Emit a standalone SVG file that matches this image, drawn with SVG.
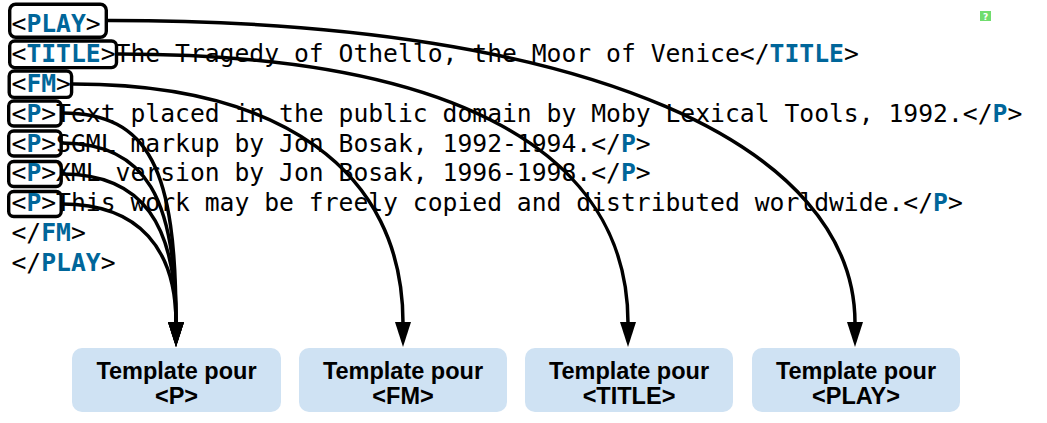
<svg xmlns="http://www.w3.org/2000/svg" width="1047" height="423" viewBox="0 0 1047 423">
<style>
.code{font-family:"DejaVu Sans Mono","Liberation Mono",monospace;font-size:24.7px;fill:#000}
.tag{font-weight:bold;fill:#00669a}
.tbox{fill:#fff;stroke:#000;stroke-width:3.4}
.tpl rect{fill:#cfe2f3}
.tpl text{font-family:"Liberation Sans",Arial,sans-serif;font-weight:bold;font-size:23.5px;fill:#000;text-anchor:middle}
.conn path{fill:none;stroke:#000;stroke-width:3.5;marker-end:url(#ah)}
</style>
<defs>
<marker id="ah" markerUnits="userSpaceOnUse" markerWidth="26" markerHeight="18" refX="1" refY="9" orient="auto" viewBox="0 0 26 18"><path d="M0,1 L25,9 L0,17 z" fill="#000"/></marker>
</defs>
<rect width="1047" height="423" fill="#fff"/>
<g id="tagboxes">
<rect id="box-play" class="tbox" x="9.7" y="4.2" width="96.6" height="33" rx="6"/>
<rect id="box-title" class="tbox" x="9.7" y="41" width="106.8" height="26.6" rx="5"/>
<rect id="box-fm" class="tbox" x="9.2" y="71" width="62.4" height="26.4" rx="5"/>
<rect id="box-p1" class="tbox" x="8.7" y="101" width="52.5" height="25" rx="5"/>
<rect id="box-p2" class="tbox" x="8.7" y="131" width="52.5" height="25" rx="5"/>
<rect id="box-p3" class="tbox" x="8.7" y="161.5" width="52.5" height="25" rx="5"/>
<rect id="box-p4" class="tbox" x="8.7" y="191.5" width="52.5" height="25" rx="5"/>
</g>
<g id="code" class="code">
<text x="11.5" y="32">&lt;<tspan class="tag">PLAY</tspan>&gt;</text>
<text x="11.5" y="62">&lt;<tspan class="tag">TITLE</tspan>&gt;The Tragedy of Othello, the Moor of Venice&lt;/<tspan class="tag">TITLE</tspan>&gt;</text>
<text x="11.5" y="92">&lt;<tspan class="tag">FM</tspan>&gt;</text>
<text x="11.5" y="121.8">&lt;<tspan class="tag">P</tspan>&gt;Text placed in the public domain by Moby Lexical Tools, 1992.&lt;/<tspan class="tag">P</tspan>&gt;</text>
<text x="11.5" y="151.5">&lt;<tspan class="tag">P</tspan>&gt;SGML markup by Jon Bosak, 1992-1994.&lt;/<tspan class="tag">P</tspan>&gt;</text>
<text x="11.5" y="181.3">&lt;<tspan class="tag">P</tspan>&gt;XML version by Jon Bosak, 1996-1998.&lt;/<tspan class="tag">P</tspan>&gt;</text>
<text x="11.5" y="211">&lt;<tspan class="tag">P</tspan>&gt;This work may be freely copied and distributed worldwide.&lt;/<tspan class="tag">P</tspan>&gt;</text>
<text x="11.5" y="240.8">&lt;/<tspan class="tag">FM</tspan>&gt;</text>
<text x="11.5" y="270.5">&lt;/<tspan class="tag">PLAY</tspan>&gt;</text>
</g>
<g id="connectors" class="conn">
<path d="M108,20.5 C600,20 855,150 855,323"/>
<path d="M118,54 C460,54 628,155 628,323"/>
<path d="M73,84 C280,84 403,170 403,323"/>
<path d="M62,113 C150,113 176,170 176,323"/>
<path d="M62,143 C147,143 176,200 176,323"/>
<path d="M62,174 C143,174 176,225 176,323"/>
<path d="M62,204 C140,204 176,250 176,323"/>
</g>
<g id="tpl-p" class="tpl"><rect x="72" y="348" width="209" height="64" rx="10"/><text x="176.5" y="379">Template pour</text><text x="176.5" y="404">&lt;P&gt;</text></g>
<g id="tpl-fm" class="tpl"><rect x="299" y="348" width="208" height="64" rx="10"/><text x="403" y="379">Template pour</text><text x="403" y="404">&lt;FM&gt;</text></g>
<g id="tpl-title" class="tpl"><rect x="525" y="348" width="208" height="64" rx="10"/><text x="629" y="379">Template pour</text><text x="629" y="404">&lt;TITLE&gt;</text></g>
<g id="tpl-play" class="tpl"><rect x="752" y="348" width="208" height="64" rx="10"/><text x="856" y="379">Template pour</text><text x="856" y="404">&lt;PLAY&gt;</text></g>
<g id="badge"><rect x="980" y="11" width="11" height="10" fill="#70dd6e"/><text x="985.5" y="19.5" font-family="DejaVu Sans,sans-serif" font-size="9" font-weight="bold" fill="#fff" text-anchor="middle">?</text></g>
</svg>
